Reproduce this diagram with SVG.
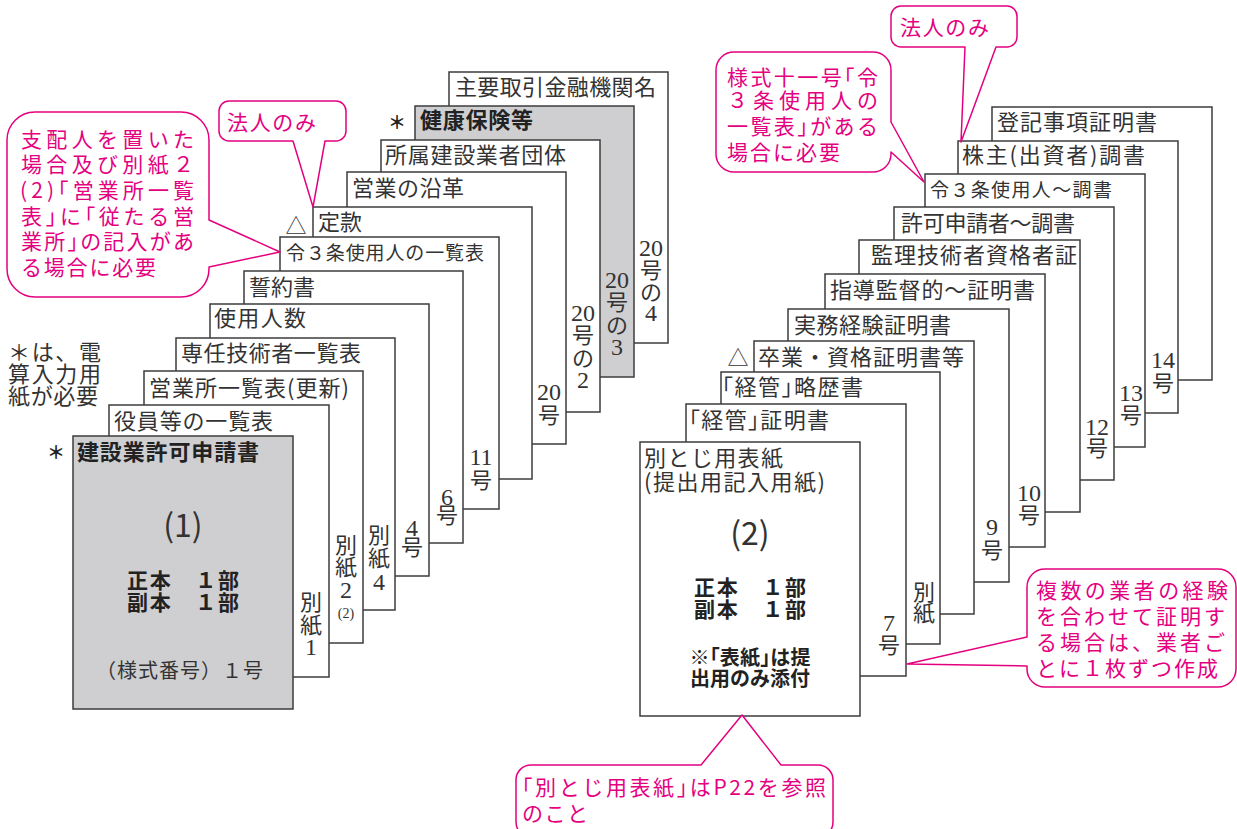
<svg xmlns="http://www.w3.org/2000/svg" width="1237" height="829" viewBox="0 0 1237 829">
<style>
.pg{fill:#fff;stroke:#3c3c3c;stroke-width:1.5}
.gr{fill:#cfcfd1}
.t{font-family:"Noto Sans CJK JP","Noto Sans CJK SC",sans-serif;font-size:22px;fill:#333}
.s{font-size:19px}
.b{font-weight:bold;fill:#222}
.m{font-family:"Liberation Serif","Noto Sans CJK JP",serif;font-size:22px;fill:#333;text-anchor:middle}
.d{font-size:24px}
.c{text-anchor:middle}
.h{font-feature-settings:"halt"}
.co{fill:#fff;stroke:#e4007f;stroke-width:1.5;stroke-linejoin:round}
.p{font-family:"Noto Sans CJK JP","Noto Sans CJK SC",sans-serif;font-size:21px;fill:#e4007f}
</style>
<rect width="1237" height="829" fill="#fff"/>

<!-- LEFT STACK (back to front) -->
<g id="L11"><rect class="pg" x="449" y="72" width="219" height="271"/>
<text class="t" x="455" y="95" textLength="201">主要取引金融機関名</text>
<text class="m d" x="651" y="256">20</text><text class="m" x="651" y="278">号</text><text class="m" x="651" y="300">の</text><text class="m d" x="651" y="321">4</text></g>
<g id="L10"><rect class="pg gr" x="415" y="106" width="219" height="271"/>
<text class="t b" x="420" y="128" textLength="113">健康保険等</text>
<text class="m d" x="617" y="288">20</text><text class="m" x="617" y="310">号</text><text class="m" x="617" y="333">の</text><text class="m d" x="617" y="355">3</text></g>
<g id="L9"><rect class="pg" x="381" y="140" width="219" height="272"/>
<text class="t" x="385" y="163" textLength="181">所属建設業者団体</text>
<text class="m d" x="583" y="321">20</text><text class="m" x="583" y="343">号</text><text class="m" x="583" y="366">の</text><text class="m d" x="583" y="388">2</text></g>
<g id="L8"><rect class="pg" x="347" y="172" width="219" height="272"/>
<text class="t" x="352" y="196" textLength="112">営業の沿革</text>
<text class="m d" x="549" y="400">20</text><text class="m" x="549" y="423">号</text></g>
<g id="L7"><rect class="pg" x="313" y="207" width="219" height="272"/>
<text class="t" x="318" y="230">定款</text>
<text class="t c" x="296" y="233" style="font-size:21px">△</text></g>
<g id="L6"><rect class="pg" x="280" y="237" width="219" height="272"/>
<text class="t s" x="286" y="260" textLength="198">令３条使用人の一覧表</text>
<text class="m d" x="481" y="465">11</text><text class="m" x="481" y="488">号</text></g>
<g id="L5"><rect class="pg" x="244" y="271" width="219" height="272"/>
<text class="t" x="249" y="295">誓約書</text>
<text class="m d" x="447" y="505">6</text><text class="m" x="447" y="523">号</text></g>
<g id="L4"><rect class="pg" x="210" y="304" width="219" height="272"/>
<text class="t" x="214" y="326" textLength="92">使用人数</text>
<text class="m d" x="412" y="536">4</text><text class="m" x="412" y="555">号</text></g>
<g id="L3"><rect class="pg" x="176" y="338" width="219" height="272"/>
<text class="t" x="181" y="361" textLength="180">専任技術者一覧表</text>
<text class="m" x="379" y="543">別</text><text class="m" x="379" y="566">紙</text><text class="m d" x="379" y="590">4</text></g>
<g id="L2"><rect class="pg" x="144" y="371" width="219" height="272"/>
<text class="t" x="149" y="396" textLength="200">営業所一覧表(更新)</text>
<text class="m" x="346" y="553">別</text><text class="m" x="346" y="575">紙</text><text class="m d" x="346" y="598">2</text><text class="m" x="346" y="618" style="font-size:14px">(2)</text></g>
<g id="L1"><rect class="pg" x="109" y="405" width="220" height="272"/>
<text class="t" x="114" y="429" textLength="159">役員等の一覧表</text>
<text class="m" x="311" y="610">別</text><text class="m" x="311" y="633">紙</text><text class="m d" x="311" y="655">1</text></g>
<g id="L0"><rect class="pg gr" x="73" y="436" width="220" height="273"/>
<text class="t b" x="77" y="460" textLength="182">建設業許可申請書</text>
<text class="t c" x="183" y="537" style="font-size:32px">(1)</text>
<text class="t b c" x="183" y="588" style="font-size:21px" textLength="112">正本　１部</text>
<text class="t b c" x="183" y="610" style="font-size:21px" textLength="112">副本　１部</text>
<text class="t" x="96" y="678" style="font-size:20px" textLength="167">（様式番号）１号</text></g>

<g id="marks-left">
<text class="t b c" x="56" y="459" style="font-size:18px">＊</text>
<text class="t b c" x="397" y="129" style="font-size:18px">＊</text>
<text class="t" x="8" y="360" textLength="93">＊は、電</text>
<text class="t" x="8" y="382" textLength="93">算入力用</text>
<text class="t" x="8" y="404" textLength="90">紙が必要</text>
</g>

<!-- RIGHT STACK (back to front) -->
<g id="R10"><rect class="pg" x="992" y="107" width="220" height="273"/>
<text class="t" x="997" y="130" textLength="160">登記事項証明書</text></g>
<g id="R9"><rect class="pg" x="958" y="141" width="220" height="272"/>
<text class="t" x="962" y="163" textLength="183">株主(出資者)調書</text>
<text class="m d" x="1163" y="368">14</text><text class="m" x="1163" y="391">号</text></g>
<g id="R8"><rect class="pg" x="925" y="174" width="220" height="273"/>
<text class="t s" x="930" y="197" textLength="182">令３条使用人〜調書</text>
<text class="m d" x="1131" y="401">13</text><text class="m" x="1131" y="423">号</text></g>
<g id="R7"><rect class="pg" x="894" y="207" width="220" height="273"/>
<text class="t" x="901" y="231" textLength="174">許可申請者〜調書</text>
<text class="m d" x="1097" y="435">12</text><text class="m" x="1097" y="456">号</text></g>
<g id="R6"><rect class="pg" x="859" y="240" width="221" height="272"/>
<text class="t" x="871" y="263" textLength="206">監理技術者資格者証</text></g>
<g id="R5"><rect class="pg" x="825" y="274" width="220" height="273"/>
<text class="t" x="830" y="298" textLength="205">指導監督的〜証明書</text>
<text class="m d" x="1029" y="501">10</text><text class="m" x="1029" y="523">号</text></g>
<g id="R4"><rect class="pg" x="788" y="309" width="221" height="273"/>
<text class="t" x="794" y="333" textLength="157">実務経験証明書</text>
<text class="m d" x="992" y="535">9</text><text class="m" x="992" y="558">号</text></g>
<g id="R3"><rect class="pg" x="754" y="341" width="220" height="273"/>
<text class="t" x="758" y="365" textLength="206">卒業・資格証明書等</text>
<text class="t c" x="738" y="365" style="font-size:21px">△</text></g>
<g id="R2"><rect class="pg" x="721" y="372" width="219" height="272"/>
<text class="t h" x="722" y="395" textLength="141">「経管」略歴書</text>
<text class="m" x="924" y="600">別</text><text class="m" x="924" y="621">紙</text></g>
<g id="R1"><rect class="pg" x="686" y="404" width="220" height="272"/>
<text class="t h" x="689" y="428" textLength="140">「経管」証明書</text>
<text class="m d" x="889" y="631">7</text><text class="m" x="889" y="653">号</text></g>
<g id="R0"><rect class="pg" x="640" y="442" width="220" height="274"/>
<text class="t" x="644" y="466" textLength="139">別とじ用表紙</text>
<text class="t" x="644" y="490" textLength="181">(提出用記入用紙)</text>
<text class="t c" x="750" y="545" style="font-size:32px">(2)</text>
<text class="t b c" x="750" y="595" style="font-size:21px" textLength="112">正本　１部</text>
<text class="t b c" x="750" y="617" style="font-size:21px" textLength="112">副本　１部</text>
<text class="t b c h" x="750" y="665" style="font-size:20px" textLength="121">※「表紙」は提</text>
<text class="t b c" x="750" y="686" style="font-size:20px" textLength="120">出用のみ添付</text></g>

<!-- CALLOUTS -->
<g id="callout-shihainin">
<path class="co" d="M35,112 H181 A28,28 0 0 1 209,140 V220 L280,252 L209,267 V269 A28,28 0 0 1 181,297 H35 A28,28 0 0 1 7,269 V140 A28,28 0 0 1 35,112 Z"/>
<text class="p" x="21" y="147" textLength="173">支配人を置いた</text>
<text class="p" x="21" y="172" textLength="173">場合及び別紙２</text>
<text class="p h" x="20" y="198" textLength="174">(2)「営業所一覧</text>
<text class="p h" x="21" y="224" textLength="173">表」に「従たる営</text>
<text class="p h" x="21" y="249" textLength="173">業所」の記入があ</text>
<text class="p" x="21" y="275" textLength="135">る場合に必要</text>
</g>
<g id="callout-hojin-left">
<path class="co" d="M229,101 H336 A10,10 0 0 1 346,111 V131 A10,10 0 0 1 336,141 H325 L313,207 L293,141 H229 A10,10 0 0 1 219,131 V111 A10,10 0 0 1 229,101 Z"/>
<text class="p" x="227" y="130" textLength="89">法人のみ</text>
</g>
<g id="callout-hojin-right">
<path class="co" d="M901,6 H1007 A10,10 0 0 1 1017,16 V37 A10,10 0 0 1 1007,47 H996 L961,142 L965,47 H901 A10,10 0 0 1 891,37 V16 A10,10 0 0 1 901,6 Z"/>
<text class="p" x="900" y="35" textLength="89">法人のみ</text>
</g>
<g id="callout-yoshiki11">
<path class="co" d="M734,52 H873 A18,18 0 0 1 891,70 V122 L924,182 L891,152 V154 A18,18 0 0 1 873,172 H734 A18,18 0 0 1 716,154 V70 A18,18 0 0 1 734,52 Z"/>
<text class="p h" x="727" y="85" textLength="151">様式十一号「令</text>
<text class="p" x="727" y="108" textLength="151">３条使用人の</text>
<text class="p h" x="727" y="134" textLength="151">一覧表」がある</text>
<text class="p" x="727" y="160" textLength="113">場合に必要</text>
</g>
<g id="callout-fukusu">
<path class="co" d="M1045,569 H1218 A18,18 0 0 1 1236,587 V669 A18,18 0 0 1 1218,687 H1045 A18,18 0 0 1 1027,669 V666 L907,664 L1027,637 V587 A18,18 0 0 1 1045,569 Z"/>
<text class="p" x="1036" y="598" textLength="192">複数の業者の経験</text>
<text class="p" x="1036" y="624" textLength="189">を合わせて証明す</text>
<text class="p" x="1036" y="650" textLength="189">る場合は、業者ご</text>
<text class="p" x="1036" y="676" textLength="182">とに１枚ずつ作成</text>
</g>
<g id="callout-betsutoji">
<path class="co" d="M531,765 H701 L742,715 L781,765 H818 A15,15 0 0 1 833,780 V822 A15,15 0 0 1 818,837 H531 A15,15 0 0 1 516,822 V780 A15,15 0 0 1 531,765 Z"/>
<text class="p h" x="522" y="795" textLength="304">「別とじ用表紙」はP22を参照</text>
<text class="p" x="522" y="821" textLength="66">のこと</text>
</g>
<g id="connectors"></g>
</svg>
